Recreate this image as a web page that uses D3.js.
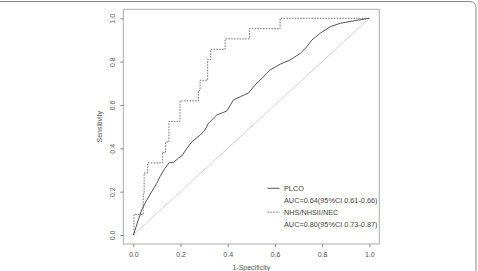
<!DOCTYPE html>
<html><head><meta charset="utf-8">
<script src="https://cdn.jsdelivr.net/npm/d3@7"></script>
<style>body{margin:0;background:#fff}svg{display:block}text{font-family:"Liberation Sans",Arial,sans-serif}</style>
</head><body>
<script>
// NHS/NHSII/NEC ROC step vertices (1-specificity, sensitivity)
const nhsFpr = [0,0.003,0.003,0.042,0.042,0.046,0.046,0.061,0.061,0.123,0.123,0.137,0.137,0.151,0.151,0.198,0.198,0.276,0.276,0.283,0.283,0.315,0.315,0.328,0.328,0.389,0.389,0.492,0.492,0.622,0.622,1];
const nhsTpr = [0,0,0.095,0.095,0.19,0.19,0.286,0.286,0.333,0.333,0.381,0.381,0.429,0.429,0.524,0.524,0.619,0.619,0.667,0.667,0.714,0.714,0.81,0.81,0.857,0.857,0.905,0.905,0.952,0.952,1,1];
// PLCO ROC curve
const plcoFpr = [0,0.003,0.021,0.035,0.057,0.078,0.099,0.113,0.134,0.153,0.17,0.191,0.205,0.227,0.248,0.283,0.304,0.318,0.325,0.354,0.396,0.424,0.453,0.488,0.516,0.538,0.58,0.622,0.665,0.707,0.736,0.757,0.792,0.834,0.877,0.933,1];
const plcoTpr = [0,0.008,0.069,0.115,0.161,0.2,0.238,0.269,0.308,0.335,0.335,0.354,0.364,0.4,0.43,0.461,0.485,0.515,0.523,0.554,0.572,0.623,0.638,0.655,0.692,0.715,0.762,0.788,0.808,0.838,0.869,0.9,0.931,0.961,0.977,0.988,1];
const ticks = [0,0.2,0.4,0.6,0.8,1.0];
const tickLabels = ["0.0","0.2","0.4","0.6","0.8","1.0"];
const legendNames = ["PLCO","NHS/NHSII/NEC"];
const legendAUC = ["AUC=0.64(95%CI 0.61-0.66)","AUC=0.80(95%CI 0.73-0.87)"];

const W=478,H=271;
const svg=d3.select("body").append("svg").attr("width",W).attr("height",H);
svg.append("rect").attr("x",-6).attr("y",1.5).attr("width",482).attr("height",320).attr("rx",6)
  .attr("fill","none").attr("stroke","#888").attr("stroke-width",1);

const x=d3.scaleLinear().domain([0,1]).range([133.3,369.3]);
const y=d3.scaleLinear().domain([0,1]).range([235,18.3]);
const col="#555";

// box
svg.append("rect").attr("x",123.3).attr("y",9.3).attr("width",256).attr("height",234.7)
  .attr("fill","none").attr("stroke","#aaa").attr("stroke-width",1);

// axes
const xa=svg.append("g").attr("transform","translate(0,244)")
  .call(d3.axisBottom(x).tickValues(ticks).tickFormat((d,i)=>tickLabels[i]).tickSize(3).tickPadding(5));
const ya=svg.append("g").attr("transform","translate(123.3,0)")
  .call(d3.axisLeft(y).tickValues(ticks).tickFormat((d,i)=>tickLabels[i]).tickSize(3).tickPadding(0));
[xa,ya].forEach(g=>{g.select(".domain").remove();g.selectAll("line").attr("stroke","#888");
  g.selectAll("text").attr("fill",col).style("font-size","7px");});
ya.selectAll(".tick text").attr("text-anchor","middle").attr("x",0).attr("dy",0)
  .attr("transform","translate(-10.5,0) rotate(-90)").attr("dominant-baseline","middle");

svg.append("text").attr("x",251.3).attr("y",270).attr("text-anchor","middle").attr("fill",col)
  .style("font-size","7px").text("1-Specificity");
svg.append("text").attr("transform","translate(102,126.7) rotate(-90)").attr("text-anchor","middle")
  .attr("fill",col).style("font-size","7px").text("Sensitivity");

// diagonal
svg.append("line").attr("x1",x(0)).attr("y1",y(0)).attr("x2",x(1)).attr("y2",y(1))
  .attr("stroke","#d4d4d4").attr("stroke-width",1);

const line=d3.line().x(d=>x(d[0])).y(d=>y(d[1]));
svg.append("path").datum(nhsFpr.map((v,i)=>[v,nhsTpr[i]])).attr("d",line)
  .attr("fill","none").attr("stroke","#666").attr("stroke-width",0.9).attr("stroke-dasharray","1.6,1.2");
svg.append("path").datum(plcoFpr.map((v,i)=>[v,plcoTpr[i]])).attr("d",line)
  .attr("fill","none").attr("stroke",col).attr("stroke-width",1);

// legend
const lg=svg.append("g");
const rowsY=[188.3,200.5,212.2,224.2];
lg.append("line").attr("x1",267.5).attr("x2",279.5).attr("y1",rowsY[0]).attr("y2",rowsY[0]).attr("stroke",col).attr("stroke-width",1);
lg.append("line").attr("x1",267.5).attr("x2",279.5).attr("y1",rowsY[2]).attr("y2",rowsY[2]).attr("stroke","#666").attr("stroke-width",0.9).attr("stroke-dasharray","1.6,1.2");
[legendNames[0],legendAUC[0],legendNames[1],legendAUC[1]].forEach((t,i)=>{
  lg.append("text").attr("x",284).attr("y",rowsY[i]).attr("dy","0.35em").attr("fill","#444")
    .style("font-size","7.3px").text(t);
});
</script>
</body></html>
